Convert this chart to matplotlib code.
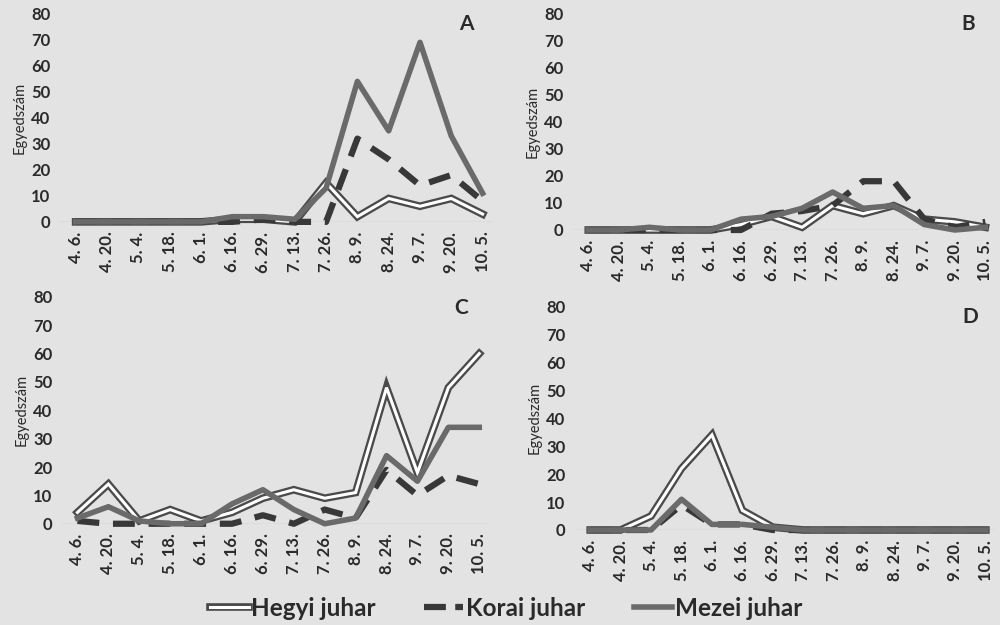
import numpy as np
import matplotlib.pyplot as plt
from matplotlib.lines import Line2D

plt.rcParams['font.family'] = ['Lato', 'DejaVu Sans']

dates = ["4. 6.", "4. 20.", "5. 4.", "5. 18.", "6. 1.", "6. 16.", "6. 29.",
         "7. 13.", "7. 26.", "8. 9.", "8. 24.", "9. 7.", "9. 20.", "10. 5."]

# A
hegyi_a = [0, 0, 0, 0, 0, 1, 1, 0, 15, 2, 9, 6, 9, 3]
korai_a = [0, 0, 0, 0, 0, 0, 1, 0, 0, 32, 24, 14, 18, 8]
mezei_a = [0, 0, 0, 0, 0, 2, 2, 1, 13, 54, 35, 69, 33, 11]
# B
hegyi_b = [0, 0, 0, 0, 0, 2, 5, 1, 9, 6, 9, 4, 3, 1]
korai_b = [0, 0, 0, 0, 0, 0, 6, 7, 9, 18, 18, 4, 1, 3]
mezei_b = [0, 0, 1, 0, 0, 4, 5, 8, 14, 8, 9, 2, 0, 1]
# C
hegyi_c = [4, 14, 1, 5, 1, 4, 9, 12, 9, 11, 48, 18, 48, 60]
korai_c = [1, 0, 0, 0, 0, 0, 3, 0, 5, 2, 19, 10, 17, 14]
mezei_c = [2, 6, 1, 0, 0, 7, 12, 5, 0, 2, 24, 15, 34, 34]
# D
hegyi_d = [0, 0, 5, 22, 34, 7, 1, 0, 0, 0, 0, 0, 0, 0]
korai_d = [0, 0, 0, 9, 2, 2, 0, 0, 0, 0, 0, 0, 0, 0]
mezei_d = [0, 0, 0, 11, 2, 2, 1, 0, 0, 0, 0, 0, 0, 0]

panels = [
    ("A", hegyi_a, korai_a, mezei_a, [0.060, 0.645, 0.432, 0.333], 13.3),
    ("B", hegyi_b, korai_b, mezei_b, [0.573, 0.632, 0.420, 0.347], 13.25),
    ("C", hegyi_c, korai_c, mezei_c, [0.062, 0.162, 0.425, 0.363], 13.25),
    ("D", hegyi_d, korai_d, mezei_d, [0.575, 0.152, 0.420, 0.358], 13.3),
]

bg = "#e3e3e3"
txt = "#2a2a2a"
dark = "#4a4a4a"
dash_c = "#383838"
mez_c = "#6a6a6a"

fig = plt.figure(figsize=(10, 6.25), dpi=100, facecolor=bg)
x = np.arange(len(dates))

for name, h, k, m, pos, xmax in panels:
    ax = fig.add_axes(pos)
    ax.set_facecolor(bg)
    ax.axhline(0, color="#c4c4c4", lw=1, zorder=1)
    ax.plot(x, h, color=dark, lw=5.5, clip_on=False, zorder=2, solid_joinstyle="miter")
    ax.plot(x, h, color="white", lw=2.2, clip_on=False, zorder=3, solid_joinstyle="miter")
    ax.plot(x, k, color=dash_c, lw=4.5, dashes=(3.5, 2.2), clip_on=False, zorder=4)
    ax.plot(x, m, color=mez_c, lw=4, clip_on=False, zorder=5)
    ax.set_xlim(-0.5, xmax)
    ax.set_ylim(0, 80)
    ax.set_yticks(range(0, 81, 10))
    ax.set_xticks(x)
    ax.set_xticklabels(dates, rotation=90)
    for s in ax.spines.values():
        s.set_visible(False)
    ax.tick_params(length=0, labelsize=12, colors=txt, pad=7)
    for lab in ax.get_xticklabels() + ax.get_yticklabels():
        lab.set_fontweight("bold")
    ax.set_ylabel("Egyedszám", fontsize=10.5, color=txt, labelpad=3)
    ax.text(0.94, 0.95, name, transform=ax.transAxes, fontsize=15,
            fontweight="bold", color=txt, ha="center", va="center")

h_handle = (Line2D([], [], color=dark, lw=5.5), Line2D([], [], color="white", lw=2.2))
k_handle = Line2D([], [], color=dash_c, lw=4.5, dashes=(3.5, 1.5))
m_handle = Line2D([], [], color=mez_c, lw=4)
leg = fig.legend([h_handle, k_handle, m_handle], ["Hegyi juhar", "Korai juhar", "Mezei juhar"],
                 loc="center", bbox_to_anchor=(0.506, 0.027), ncol=3, frameon=False,
                 handlelength=1.6, handletextpad=0.1, columnspacing=2.0,
                 prop={"size": 17.5, "weight": "bold"})
for t in leg.get_texts():
    t.set_color(txt)

fig.savefig("out.png", dpi=100, facecolor=bg)
